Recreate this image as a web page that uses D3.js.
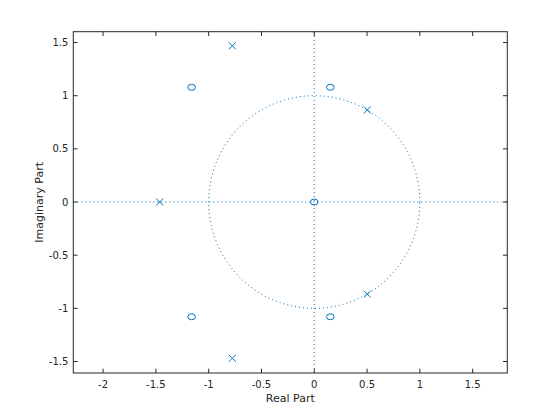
<!DOCTYPE html>
<html><head><meta charset="utf-8">
<script src="https://cdn.jsdelivr.net/npm/d3@7"></script>
<style>body{margin:0;background:#fff}svg{display:block}text{font-family:"DejaVu Sans",sans-serif}</style>
</head><body><svg id="c" width="560" height="420"></svg>
<script>
const zerosRe = [0, -1.161, -1.161, 0.152, 0.152];
const zerosIm = [0, 1.079, -1.079, 1.079, -1.079];
const polesRe = [-1.464, -0.776, -0.776, 0.502, 0.502];
const polesIm = [0, 1.470, -1.470, 0.866, -0.866];
const xTicks = [-2, -1.5, -1, -0.5, 0, 0.5, 1, 1.5];
const yTicks = [-1.5, -1, -0.5, 0, 0.5, 1, 1.5];
const xDomain = [-2.282, 1.828];
const yDomain = [-1.608, 1.602];

const svg = d3.select("#c");
const L = 73.3, R = 507.3, T = 31.7, B = 373;
const x = d3.scaleLinear().domain(xDomain).range([L, R]);
const y = d3.scaleLinear().domain(yDomain).range([B, T]);
const blue = "#0072BD", ink = "#262626";
const fmt = d => String(d);

const g = svg.append("g");
const th = d3.range(0, 2 * Math.PI + 0.001, Math.PI / 100);
g.append("path").attr("d", d3.line().x(t => x(Math.cos(t))).y(t => y(Math.sin(t)))(th))
  .attr("fill", "none").attr("stroke", blue).attr("stroke-width", 1).attr("stroke-dasharray", "1,3");
g.append("line").attr("x1", x(xDomain[0])).attr("x2", x(xDomain[1])).attr("y1", y(0)).attr("y2", y(0))
  .attr("stroke", blue).attr("stroke-dasharray", "1,3");
g.append("line").attr("x1", x(0)).attr("x2", x(0)).attr("y1", y(yDomain[0])).attr("y2", y(yDomain[1]))
  .attr("stroke", blue).attr("stroke-dasharray", "1,3");

g.selectAll(".z").data(zerosRe.map((r, i) => [r, zerosIm[i]])).enter().append("ellipse")
  .attr("cx", d => x(d[0])).attr("cy", d => y(d[1])).attr("rx", 3.8).attr("ry", 3)
  .attr("fill", "none").attr("stroke", blue).attr("stroke-width", 1);
const s = 3.5;
g.selectAll(".p").data(polesRe.map((r, i) => [r, polesIm[i]])).enter().append("path")
  .attr("d", d => { const cx = x(d[0]), cy = y(d[1]); return `M${cx-s},${cy-s}L${cx+s},${cy+s}M${cx-s},${cy+s}L${cx+s},${cy-s}`; })
  .attr("fill", "none").attr("stroke", blue).attr("stroke-width", 1);

const tl = 4.3;
const ax = svg.append("g");
ax.append("rect").attr("x", L).attr("y", T).attr("width", R - L).attr("height", B - T)
  .attr("fill", "none").attr("stroke", ink).attr("stroke-width", 1);
xTicks.forEach(v => {
  ax.append("line").attr("x1", x(v)).attr("x2", x(v)).attr("y1", B).attr("y2", B - tl).attr("stroke", ink);
  ax.append("line").attr("x1", x(v)).attr("x2", x(v)).attr("y1", T).attr("y2", T + tl).attr("stroke", ink);
  ax.append("text").attr("x", x(v)).attr("y", B + 15).attr("text-anchor", "middle")
    .attr("font-size", 10).attr("fill", ink).text(fmt(v));
});
yTicks.forEach(v => {
  ax.append("line").attr("x1", L).attr("x2", L + tl).attr("y1", y(v)).attr("y2", y(v)).attr("stroke", ink);
  ax.append("line").attr("x1", R).attr("x2", R - tl).attr("y1", y(v)).attr("y2", y(v)).attr("stroke", ink);
  ax.append("text").attr("x", L - 5).attr("y", y(v) + 3.5).attr("text-anchor", "end")
    .attr("font-size", 10).attr("fill", ink).text(fmt(v));
});
ax.append("text").attr("x", (L + R) / 2).attr("y", 402).attr("text-anchor", "middle")
  .attr("font-size", 11).attr("fill", ink).text("Real Part");
ax.append("text").attr("transform", `translate(43,${(T + B) / 2}) rotate(-90)`).attr("text-anchor", "middle")
  .attr("font-size", 11).attr("fill", ink).text("Imaginary Part");
</script></body></html>
